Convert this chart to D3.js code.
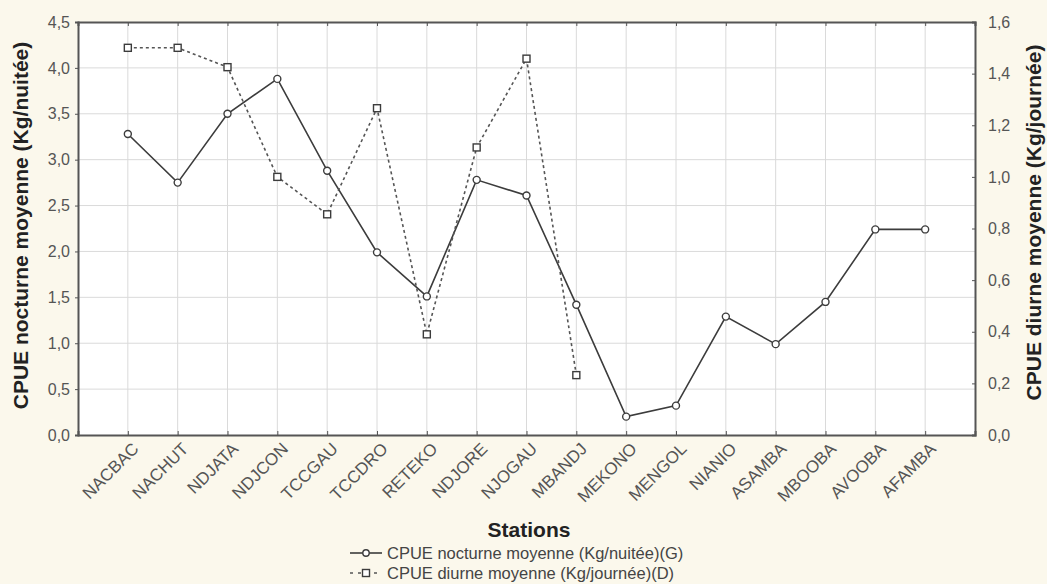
<!DOCTYPE html>
<html>
<head>
<meta charset="utf-8">
<script src="https://cdn.jsdelivr.net/npm/d3@7"></script>
<style>
  body { margin: 0; background: #fbf8ec; }
  svg { display: block; font-family: "Liberation Sans", Arial, sans-serif; }
</style>
</head>
<body>
<svg id="svg"></svg>
<script>
const width = 1047;
const height = 584;

const stations = ["NACBAC", "NACHUT", "NDJATA", "NDJCON", "TCCGAU", "TCCDRO", "RETEKO", "NDJORE", "NJOGAU",
  "MBANDJ", "MEKONO", "MENGOL", "NIANIO", "ASAMBA", "MBOOBA", "AVOOBA", "AFAMBA"];
// CPUE nocturne (left axis)
const nocturne = [3.28, 2.75, 3.5, 3.88, 2.88, 1.99, 1.51, 2.78, 2.61, 1.42, 0.2, 0.32, 1.29, 0.99, 1.45, 2.24, 2.24];
// CPUE diurne (right axis), only the first 10 stations
const diurne = [1.5, 1.5, 1.425, 1.0, 0.855, 1.266, 0.39, 1.114, 1.458, 0.232];
const leftTicks = [0, 0.5, 1, 1.5, 2, 2.5, 3, 3.5, 4, 4.5];
const rightTicks = [0, 0.2, 0.4, 0.6, 0.8, 1.0, 1.2, 1.4, 1.6];

const m = { left: 78, right: 72, top: 22, bottom: 149 };
const svg = d3.select("#svg").attr("width", width).attr("height", height);

const x = d3.scalePoint().domain(stations).range([m.left, width - m.right]).padding(1);
const yL = d3.scaleLinear().domain([0, 4.5]).range([height - m.bottom, m.top]);
const yR = d3.scaleLinear().domain([0, 1.6]).range([height - m.bottom, m.top]);
const fmt = (d) => d3.format(".1f")(d).replace(".", ",");

svg.append("rect")
  .attr("x", m.left).attr("y", m.top)
  .attr("width", width - m.left - m.right).attr("height", height - m.top - m.bottom)
  .attr("fill", "#fff");

// grid
svg.append("g").selectAll("line").data(stations).join("line")
  .attr("x1", (d) => x(d)).attr("x2", (d) => x(d))
  .attr("y1", m.top).attr("y2", height - m.bottom)
  .attr("stroke", "#dadada");
svg.append("g").selectAll("line").data(leftTicks.slice(1, -1)).join("line")
  .attr("x1", m.left).attr("x2", width - m.right)
  .attr("y1", (d) => yL(d)).attr("y2", (d) => yL(d))
  .attr("stroke", "#dadada");

// axes
const axL = svg.append("g").attr("transform", `translate(${m.left},0)`)
  .call(d3.axisLeft(yL).tickValues(leftTicks).tickFormat(fmt).tickSize(3).tickPadding(5));
const axR = svg.append("g").attr("transform", `translate(${width - m.right},0)`)
  .call(d3.axisRight(yR).tickValues(rightTicks).tickFormat(fmt).tickSize(-3).tickPadding(13));
const axB = svg.append("g").attr("transform", `translate(0,${height - m.bottom})`)
  .call(d3.axisBottom(x).tickSize(-4).tickPadding(10));
const axT = svg.append("g").attr("transform", `translate(0,${m.top})`)
  .call(d3.axisTop(x).tickSize(-4).tickFormat(""));

[axL, axR, axB, axT].forEach((a) => {
  a.select(".domain").attr("stroke", "#555").attr("stroke-width", 2);
  a.selectAll(".tick line").attr("stroke", "#555");
  a.selectAll("text").attr("fill", "#555").attr("font-size", 16);
});
axB.selectAll("text")
  .attr("font-size", 17)
  .attr("text-anchor", "end")
  .attr("dx", "-0.15em").attr("dy", "0.5em")
  .attr("transform", "rotate(-45)");

// lines
const lineN = d3.line().x((d, i) => x(stations[i])).y((d) => yL(d));
const lineD = d3.line().x((d, i) => x(stations[i])).y((d) => yR(d));

svg.append("path").datum(nocturne).attr("d", lineN)
  .attr("fill", "none").attr("stroke", "#3c3c3c").attr("stroke-width", 1.6);
svg.append("path").datum(diurne).attr("d", lineD)
  .attr("fill", "none").attr("stroke", "#555").attr("stroke-width", 1.6)
  .attr("stroke-dasharray", "3,3");

svg.append("g").selectAll("circle").data(nocturne).join("circle")
  .attr("cx", (d, i) => x(stations[i])).attr("cy", (d) => yL(d))
  .attr("r", 3.5).attr("fill", "#fff").attr("stroke", "#3c3c3c").attr("stroke-width", 1.4);
svg.append("g").selectAll("rect").data(diurne).join("rect")
  .attr("x", (d, i) => x(stations[i]) - 3.5).attr("y", (d) => yR(d) - 3.5)
  .attr("width", 7).attr("height", 7)
  .attr("fill", "#fff").attr("stroke", "#3c3c3c").attr("stroke-width", 1.4);

// titles
const midY = (m.top + height - m.bottom) / 2;
svg.append("text")
  .attr("transform", `translate(28,${midY - 3}) rotate(-90)`)
  .attr("text-anchor", "middle").attr("font-size", 21).attr("font-weight", "bold").attr("fill", "#222")
  .text("CPUE nocturne moyenne (Kg/nuitée)");
svg.append("text")
  .attr("transform", `translate(1041,${midY - 6}) rotate(-90)`)
  .attr("text-anchor", "middle").attr("font-size", 21).attr("font-weight", "bold").attr("fill", "#222")
  .text("CPUE diurne moyenne (Kg/journée)");
svg.append("text")
  .attr("x", 529).attr("y", 537)
  .attr("text-anchor", "middle").attr("font-size", 21).attr("font-weight", "bold").attr("fill", "#222")
  .text("Stations");

// legend
const legend = svg.append("g").attr("transform", "translate(350,0)");
legend.append("line").attr("x1", 0).attr("x2", 32).attr("y1", 553).attr("y2", 553)
  .attr("stroke", "#3c3c3c").attr("stroke-width", 1.6);
legend.append("circle").attr("cx", 16).attr("cy", 553).attr("r", 3.2)
  .attr("fill", "#fff").attr("stroke", "#3c3c3c").attr("stroke-width", 1.4);
legend.append("line").attr("x1", 0).attr("x2", 32).attr("y1", 573).attr("y2", 573)
  .attr("stroke", "#555").attr("stroke-width", 1.6).attr("stroke-dasharray", "3,5");
legend.append("rect").attr("x", 12.5).attr("y", 569.5).attr("width", 7).attr("height", 7)
  .attr("fill", "#fff").attr("stroke", "#3c3c3c").attr("stroke-width", 1.4);
legend.append("text").attr("x", 37).attr("y", 559).attr("font-size", 16.5).attr("fill", "#444")
  .text("CPUE nocturne moyenne (Kg/nuitée)(G)");
legend.append("text").attr("x", 37).attr("y", 579).attr("font-size", 16.5).attr("fill", "#444")
  .text("CPUE diurne moyenne (Kg/journée)(D)");
</script>
</body>
</html>
